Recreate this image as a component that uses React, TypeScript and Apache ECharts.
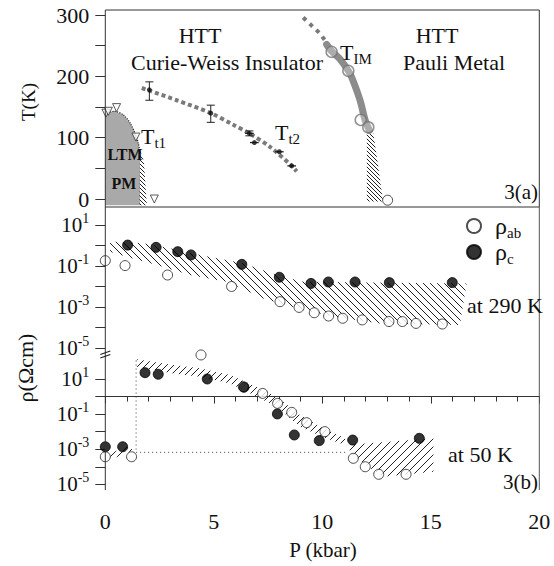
import React, { useEffect, useRef } from 'react';
import * as echarts from 'echarts';

type Pt = [number, number];

// ---------------- Panel 3(a): T (K) versus P (kbar) ----------------
const ltmBoundary: Pt[] = [[0, 140], [0.42, 143], [0.83, 137], [1.14, 124], [1.37, 107], [1.52, 91], [1.6, 75]];
const ltmFloorT = -10;
const ltmHatch: Pt[] = [[1.6, 80], [1.78, 61], [1.9, -2], [1.92, -10], [1.57, -10]];
const tt1Triangles: Pt[] = [[0.03, 140], [0.14, 143], [0.52, 149], [1.41, 101], [2.26, 0]];

const tt2Line: Pt[] = [[1.68, 181], [3.29, 161], [4.86, 140], [5.9, 121], [6.64, 107], [7.59, 85], [8.59, 54], [8.82, 45]];
const tt2PointsP = [2.03, 4.86, 6.64, 6.87, 8.02, 8.59];
const tt2PointsT = [178, 140, 107, 92, 77, 54];
const tt2ErrV = [[2.03, 161, 191], [4.86, 125, 153], [6.64, 103, 111]]; // P, Tlow, Thigh
const tt2ErrH = [[6.64, 107, 0.2], [6.87, 92, 0.2], [8.02, 77, 0.2], [8.59, 54, 0.2]]; // P, T, half width

const timDotted: Pt[] = [[9.12, 296], [9.5, 283], [9.89, 270], [10.28, 251]];
const timSolid: Pt[] = [[10.2, 252], [10.43, 241], [10.82, 228], [11.2, 209], [11.35, 199], [11.74, 161], [11.97, 129], [12.17, 112]];
const timCircles: Pt[] = [[10.43, 240], [11.2, 209], [11.77, 129], [12.12, 117]];
const metalCircle: Pt[] = [[13.01, -2]];
const timHatch: Pt[] = [[12.05, 110], [12.35, 107], [12.55, 60], [12.8, -4], [12.05, -4]];

const tTicksLabelled = [0, 100, 200, 300];

// ---------------- Panel 3(b): log10 rho (Ohm cm) versus P ----------------
// 290 K
const pAb290 = [0, 0.91, 2.87, 5.82, 8.05, 8.93, 9.63, 10.29, 10.94, 11.84, 13.07, 13.69, 14.32, 15.53];
const logAb290 = [-0.74, -0.98, -1.44, -2.0, -2.74, -3.02, -3.28, -3.44, -3.55, -3.63, -3.71, -3.71, -3.8, -3.83];
const pC290 = [1.03, 2.34, 3.34, 3.95, 6.29, 8.02, 9.48, 10.28, 11.51, 13.09, 15.99];
const logC290 = [0.02, -0.09, -0.3, -0.46, -0.92, -1.55, -1.85, -1.78, -1.78, -1.81, -1.81];
const band290: Pt[] = [
  [0.22, 0.19], [1.75, 0.11], [2.98, -0.14], [4.36, -0.46], [6.36, -0.87], [7.9, -1.44], [9.12, -1.77], [16.65, -1.85],
  [16.34, -3.88], [12.66, -3.8], [10.97, -3.55], [9.12, -3.15], [7.28, -2.58], [5.59, -1.77], [3.9, -1.44], [2.37, -0.95], [0.98, -0.55], [0.22, -0.3],
];
// 50 K
const pAb50 = [0, 1.21, 4.41, 6.36, 7.25, 7.94, 8.59, 9.28, 10.12, 11.43, 11.98, 12.6, 13.86];
const logAb50 = [-3.43, -3.43, 2.37, 0.56, 0.18, -0.39, -0.9, -1.49, -2.0, -3.52, -4.0, -4.43, -4.43];
const pC50 = [0, 0.8, 1.83, 2.44, 4.7, 6.39, 7.93, 8.71, 9.86, 11.4, 14.47];
const logC50 = [-2.86, -2.86, 1.36, 1.27, 1.0, 0.53, -0.99, -2.19, -2.51, -2.48, -2.38];
const band50Upper: Pt[] = [
  [1.45, 2.12], [3.13, 1.8], [4.36, 1.61], [5.75, 1.23], [6.98, 0.56], [7.9, -0.01], [8.97, -1.05], [10.05, -1.81], [11.05, -2.38],
  [11.05, -2.76], [10.05, -2.32], [8.97, -1.72], [7.9, -0.58], [6.98, -0.01], [5.75, 0.75], [4.36, 1.13], [3.13, 1.32], [1.45, 1.7],
];
const band50Lower: Pt[] = [[11.12, -2.76], [15.12, -2.38], [15.12, -4.28], [12.81, -4.57], [11.43, -3.43]];
const band50Left: Pt[] = [[0.1, -3.3], [1.0, -2.85], [1.3, -3.05], [0.35, -3.55]];
const guide50V: Pt[] = [[1.42, 2.05], [1.42, -3.18]];
const guide50H: Pt[] = [[1.42, -3.18], [11.1, -3.18]];

// ---------------- styling / layout ----------------
const FONT = 'Liberation Serif';
const INK = '#111111';
const PLOT_L = 105.3;
const PLOT_W = 434;
const A_TOP = 15, A_H = 184;
const B_TOP = 225, B_H = 123;
const C_TOP = 379, C_H = 105.3;
const FRAME_TOP = 10, PANEL_SPLIT = 207, LEFT_AXIS_END = 490, BREAK_Y = 355;

const zip = (xs: number[], ys: number[]): Pt[] => xs.map((x, i) => [x, ys[i]]);

function hatch(period: number, dir: 1 | -1, width = 1, color = '#111') {
  const c = document.createElement('canvas');
  c.width = period;
  c.height = period;
  const ctx = c.getContext('2d')!;
  ctx.strokeStyle = color;
  ctx.lineWidth = width;
  ctx.beginPath();
  if (dir > 0) {
    ctx.moveTo(-1, period + 1); ctx.lineTo(period + 1, -1);
    ctx.moveTo(-1, 1); ctx.lineTo(1, -1);
    ctx.moveTo(period - 1, period + 1); ctx.lineTo(period + 1, period - 1);
  } else {
    ctx.moveTo(-1, -1); ctx.lineTo(period + 1, period + 1);
    ctx.moveTo(period - 1, -1); ctx.lineTo(period + 1, 1);
    ctx.moveTo(-1, period - 1); ctx.lineTo(1, period + 1);
  }
  ctx.stroke();
  return { image: c.toDataURL(), repeat: 'repeat', imageWidth: period, imageHeight: period };
}

function polygonSeries(poly: Pt[], axis: number, fill: any, z = 1) {
  return {
    type: 'custom',
    coordinateSystem: 'cartesian2d',
    xAxisIndex: axis,
    yAxisIndex: axis,
    silent: true,
    clip: false,
    z,
    data: poly,
    renderItem: (params: any, api: any) => {
      if (params.dataIndex !== 0) return null;
      const pts = poly.map((p) => api.coord(p));
      return { type: 'polygon', shape: { points: pts }, style: { fill, stroke: 'none' } };
    },
  };
}

function lineSeries(data: Pt[], axis: number, lineStyle: any, extra: any = {}) {
  return {
    type: 'line',
    xAxisIndex: axis,
    yAxisIndex: axis,
    data,
    showSymbol: false,
    symbol: 'none',
    silent: true,
    clip: false,
    z: 2,
    lineStyle,
    ...extra,
  };
}

// rich styles for graphic texts (zrender uses `fill`) and components (ECharts uses `color`)
const subRich = {
  m: { fontSize: 22, fontFamily: FONT, fill: INK, color: INK, lineHeight: 28 },
  s: { fontSize: 15, fontFamily: FONT, fill: INK, color: INK, verticalAlign: 'bottom', lineHeight: 16 },
};

function text(str: string, x: number, y: number, opts: any = {}) {
  const style: any = {
    text: str,
    fontSize: opts.fontSize || 22,
    fontFamily: FONT,
    fill: INK,
    align: opts.align || 'center',
    verticalAlign: 'middle',
  };
  if (opts.fontWeight) style.fontWeight = opts.fontWeight;
  if (opts.rich) style.rich = opts.rich;
  return { type: 'text', x, y, z: 100, silent: true, rotation: opts.rotation || 0, style };
}

function vline(x: number, y1: number, y2: number, color = '#333') {
  return { type: 'line', z: 50, silent: true, shape: { x1: x, y1, x2: x, y2 }, style: { stroke: color, lineWidth: 1 } };
}

const logLabel = (v: number) => {
  const n = Math.round(v);
  return n % 2 !== 0 ? `{b|10}{s|${n}}` : '';
};
const logRich = {
  b: { fontSize: 21, fontFamily: FONT, color: INK, lineHeight: 28 },
  s: { fontSize: 14, fontFamily: FONT, color: INK, verticalAlign: 'top', lineHeight: 10 },
};

function logAxis(grid: number) {
  return {
    type: 'value',
    gridIndex: grid,
    min: -5,
    max: 1,
    interval: 1,
    axisLine: { show: false },
    axisTick: { show: true, inside: false, length: 10, lineStyle: { color: '#333', width: 1 } },
    splitLine: { show: false },
    axisLabel: { formatter: logLabel, rich: logRich, margin: 16, fontFamily: FONT },
  };
}

export default function App() {
  const ref = useRef<HTMLDivElement>(null);

  useEffect(() => {
    document.body.style.margin = '0';
    if (!ref.current) return;
    const chart = echarts.init(ref.current, undefined, { renderer: 'svg' });

    const hatchDense = hatch(4, -1, 1, '#222');
    const hatchBack = hatch(7, -1, 1, '#222');
    const hatchFwd = hatch(7, 1, 1, '#222');
    const hatchFwdWide = hatch(8, 1, 1, '#222');

    const openCircle = { color: '#fff', borderColor: '#222', borderWidth: 1 };
    const filledCircle = { color: '#000', borderColor: '#000', borderWidth: 1 };

    const option: any = {
      animation: false,
      backgroundColor: '#fff',
      textStyle: { fontFamily: FONT },
      grid: [
        { left: PLOT_L, width: PLOT_W, top: A_TOP, height: A_H },
        { left: PLOT_L, width: PLOT_W, top: B_TOP, height: B_H },
        { left: PLOT_L, width: PLOT_W, top: C_TOP, height: C_H },
      ],
      xAxis: [
        { type: 'value', gridIndex: 0, min: 0, max: 20, show: false },
        { type: 'value', gridIndex: 1, min: 0, max: 20, show: false },
        {
          type: 'value',
          gridIndex: 2,
          min: 0,
          max: 20,
          interval: 5,
          position: 'bottom',
          offset: 14,
          axisLine: { show: true, lineStyle: { color: '#333', width: 1 } },
          axisTick: { show: true, inside: false, length: 7, lineStyle: { color: '#333' } },
          minorTick: { show: true, splitNumber: 5, length: 5, lineStyle: { color: '#333' } },
          splitLine: { show: false },
          axisLabel: { fontSize: 22, fontFamily: FONT, color: INK, margin: 12 },
        },
      ],
      yAxis: [
        {
          type: 'value',
          gridIndex: 0,
          min: 0,
          max: 300,
          interval: 50,
          axisLine: { show: false },
          axisTick: { show: true, inside: false, length: 10, lineStyle: { color: '#333' } },
          splitLine: { show: false },
          axisLabel: {
            formatter: (v: number) => (tTicksLabelled.includes(v) ? String(v) : ''),
            fontSize: 22,
            fontFamily: FONT,
            color: INK,
            margin: 16,
          },
        },
        logAxis(1),
        logAxis(2),
      ],
      legend: {
        data: ['ρab', 'ρc'],
        orient: 'vertical',
        left: 461,
        top: 209,
        itemWidth: 14,
        itemHeight: 14,
        itemGap: 0,
        selectedMode: false,
        formatter: (name: string) => (name === 'ρab' ? '{m|ρ}{s|ab}' : '{m|ρ}{s|c}'),
        textStyle: {
          fontFamily: FONT,
          rich: {
            m: { ...subRich.m, fontSize: 24, padding: [0, 0, 0, 9] },
            s: subRich.s,
          },
        },
      },
      series: [
        // ---- panel (a)
        polygonSeries([[0, ltmFloorT], ...ltmBoundary, [ltmBoundary[ltmBoundary.length - 1][0], ltmFloorT]], 0, '#a9a9a9', 1),
        polygonSeries(ltmHatch, 0, hatchDense, 1),
        polygonSeries(timHatch, 0, hatchDense, 1),
        lineSeries(ltmBoundary, 0, { color: '#222', width: 1.2, type: 'dotted' }, { smooth: 0.3 }),
        lineSeries(tt2Line, 0, { color: '#7a7a7a', width: 4, type: [4, 3], cap: 'butt' }, { smooth: 0.3 }),
        lineSeries(timDotted, 0, { color: '#7a7a7a', width: 4, type: [4, 5], cap: 'butt' }),
        lineSeries(timSolid, 0, { color: '#8c8c8c', width: 7, cap: 'round', join: 'round' }, { smooth: 0.3 }),
        {
          type: 'custom',
          coordinateSystem: 'cartesian2d',
          xAxisIndex: 0,
          yAxisIndex: 0,
          silent: true,
          clip: false,
          z: 4,
          data: tt2ErrV,
          renderItem: (params: any, api: any) => {
            const a = api.coord([api.value(0), api.value(1)]);
            const b = api.coord([api.value(0), api.value(2)]);
            const st = { stroke: '#222', lineWidth: 1 };
            return {
              type: 'group',
              children: [
                { type: 'line', shape: { x1: a[0], y1: a[1], x2: b[0], y2: b[1] }, style: st },
                { type: 'line', shape: { x1: a[0] - 4, y1: a[1], x2: a[0] + 4, y2: a[1] }, style: st },
                { type: 'line', shape: { x1: b[0] - 4, y1: b[1], x2: b[0] + 4, y2: b[1] }, style: st },
              ],
            };
          },
        },
        {
          type: 'custom',
          coordinateSystem: 'cartesian2d',
          xAxisIndex: 0,
          yAxisIndex: 0,
          silent: true,
          clip: false,
          z: 4,
          data: tt2ErrH,
          renderItem: (params: any, api: any) => {
            const p = api.value(0), t = api.value(1), d = api.value(2);
            const a = api.coord([p - d, t]);
            const b = api.coord([p + d, t]);
            return { type: 'line', shape: { x1: a[0], y1: a[1], x2: b[0], y2: b[1] }, style: { stroke: '#222', lineWidth: 1.3 } };
          },
        },
        {
          type: 'scatter', xAxisIndex: 0, yAxisIndex: 0, clip: false, silent: true, z: 5,
          data: zip(tt2PointsP, tt2PointsT), symbol: 'circle', symbolSize: 5, itemStyle: { color: '#111' },
        },
        {
          type: 'scatter', xAxisIndex: 0, yAxisIndex: 0, clip: false, silent: true, z: 5,
          data: tt1Triangles, symbol: 'triangle', symbolRotate: 180, symbolSize: 8,
          itemStyle: { color: '#fff', borderColor: '#333', borderWidth: 1 },
        },
        {
          type: 'scatter', xAxisIndex: 0, yAxisIndex: 0, clip: false, silent: true, z: 5,
          data: timCircles, symbol: 'circle', symbolSize: 11,
          itemStyle: { color: 'rgba(255,255,255,0.35)', borderColor: '#777', borderWidth: 1.5 },
        },
        {
          type: 'scatter', xAxisIndex: 0, yAxisIndex: 0, clip: false, silent: true, z: 5,
          data: metalCircle, symbol: 'circle', symbolSize: 10,
          itemStyle: { color: '#fff', borderColor: '#222', borderWidth: 1 },
        },
        // ---- panel (b), 290 K
        polygonSeries(band290, 1, hatchBack, 1),
        { type: 'scatter', name: 'ρab', xAxisIndex: 1, yAxisIndex: 1, clip: false, z: 5, data: zip(pAb290, logAb290), symbol: 'circle', symbolSize: 10, itemStyle: openCircle },
        { type: 'scatter', name: 'ρc', xAxisIndex: 1, yAxisIndex: 1, clip: false, z: 5, data: zip(pC290, logC290), symbol: 'circle', symbolSize: 10, itemStyle: filledCircle },
        // ---- panel (b), 50 K
        polygonSeries(band50Upper, 2, hatchFwd, 1),
        polygonSeries(band50Lower, 2, hatchFwdWide, 1),
        polygonSeries(band50Left, 2, hatchFwd, 1),
        lineSeries(guide50V, 2, { color: '#444', width: 1, type: [1, 3] }),
        lineSeries(guide50H, 2, { color: '#444', width: 1, type: [1, 3] }),
        { type: 'scatter', name: 'ρab', xAxisIndex: 2, yAxisIndex: 2, clip: false, z: 5, data: zip(pAb50, logAb50), symbol: 'circle', symbolSize: 10, itemStyle: openCircle },
        { type: 'scatter', name: 'ρc', xAxisIndex: 2, yAxisIndex: 2, clip: false, z: 5, data: zip(pC50, logC50), symbol: 'circle', symbolSize: 10, itemStyle: filledCircle },
      ],
      graphic: [
        // frames and axis lines
        {
          type: 'rect', silent: true, z: 50,
          shape: { x: PLOT_L, y: FRAME_TOP, width: PLOT_W, height: PANEL_SPLIT - FRAME_TOP },
          style: { fill: 'none', stroke: '#333', lineWidth: 1 },
        },
        vline(PLOT_L, PANEL_SPLIT, LEFT_AXIS_END),
        vline(PLOT_L + PLOT_W, PANEL_SPLIT, LEFT_AXIS_END, '#555'),
        { type: 'line', z: 50, silent: true, shape: { x1: PLOT_L - 5, y1: BREAK_Y - 0.5, x2: PLOT_L + 5, y2: BREAK_Y - 4 }, style: { stroke: '#222', lineWidth: 1.2 } },
        { type: 'line', z: 50, silent: true, shape: { x1: PLOT_L - 5, y1: BREAK_Y + 3, x2: PLOT_L + 5, y2: BREAK_Y - 0.5 }, style: { stroke: '#222', lineWidth: 1.2 } },
        // axis titles
        text('T(K)', 28, 102, { rotation: Math.PI / 2, fontSize: 19 }),
        text('ρ(Ωcm)', 25, 368, { rotation: Math.PI / 2, fontSize: 22 }),
        text('P (kbar)', 323, 550, { fontSize: 21 }),
        // panel (a) annotations
        text('HTT', 200, 35),
        text('Curie-Weiss Insulator', 227, 62),
        text('HTT', 437, 35),
        text('Pauli Metal', 454, 62),
        text('{m|T}{s|IM}', 340, 52, { align: 'left', rich: subRich }),
        text('{m|T}{s|t1}', 141, 136, { align: 'left', rich: subRich }),
        text('{m|T}{s|t2}', 275, 132, { align: 'left', rich: subRich }),
        text('LTM', 125, 154, { fontSize: 16, fontWeight: 'bold' }),
        text('PM', 124, 183, { fontSize: 16, fontWeight: 'bold' }),
        text('3(a)', 538, 192, { align: 'right', fontSize: 21 }),
        // panel (b) annotations
        text('at 290 K', 467, 305, { align: 'left' }),
        text('at 50 K', 448, 454, { align: 'left' }),
        text('3(b)', 538, 482, { align: 'right', fontSize: 21 }),
      ],
    };

    chart.setOption(option);
    return () => chart.dispose();
  }, []);

  return <div ref={ref} style={{ width: 554, height: 566 }} />;
}
